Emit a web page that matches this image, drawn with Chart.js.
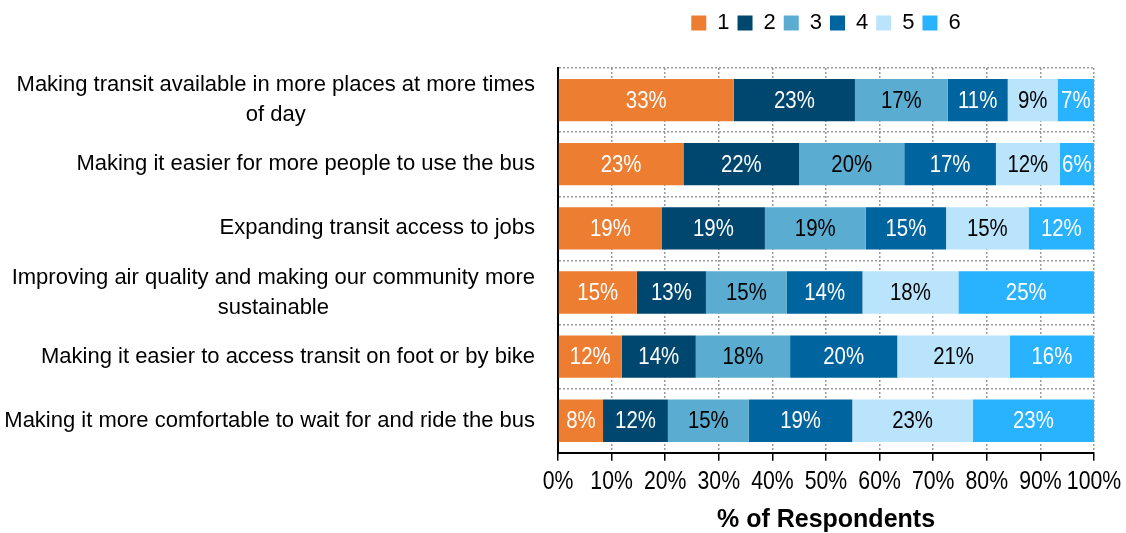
<!DOCTYPE html>
<html lang="en">

<head>
    <meta charset="UTF-8">
    <title>Priorities</title>
    <script src="https://cdn.jsdelivr.net/npm/chart.js@4.4.0/dist/chart.umd.min.js"></script>
    <style>
        html,
        body {
            margin: 0;
            background: #fff;
        }

        #wrap {
            width: 1126px;
            height: 533px;
        }
    </style>
</head>

<body>
    <div id="wrap"><canvas id="myChart"></canvas></div>
    <script>
        // categories (wrapped lines)
        var categories = [
            ['Making transit available in more places at more times', 'of day'],
            ['Making it easier for more people to use the bus'],
            ['Expanding transit access to jobs'],
            ['Improving air quality and making our community more', 'sustainable'],
            ['Making it easier to access transit on foot or by bike'],
            ['Making it more comfortable to wait for and ride the bus']
        ];
        var seriesNames = ['1', '2', '3', '4', '5', '6'];

        // % of respondents per rank, one array per rank (rows follow categories)
        var rank1 = [32.8, 23.4, 19.4, 14.7, 11.9, 8.4];
        var rank2 = [22.6, 21.6, 19.2, 12.9, 13.8, 12.1];
        var rank3 = [17.3, 19.6, 18.8, 15.1, 17.6, 15.1];
        var rank4 = [11.2, 17.1, 15.0, 14.1, 20.0, 19.3];
        var rank5 = [9.3, 11.9, 15.4, 17.9, 21.0, 22.5];
        var rank6 = [6.8, 6.4, 12.2, 25.3, 15.7, 22.6];

        var xTicks = [0, 10, 20, 30, 40, 50, 60, 70, 80, 90, 100];

        var colors = ['#ED7D31', '#00476F', '#5AACD1', '#00649E', '#B9E4FC', '#29B2FE'];
        var textColors = ['#fff', '#fff', '#000', '#fff', '#000', '#fff'];
        var FONT = "'Liberation Sans', Arial, sans-serif";
        var SQUEEZE = 0.85; // narrow look for the number labels

        var allSeries = [rank1, rank2, rank3, rank4, rank5, rank6];
        var datasets = allSeries.map(function (vals, i) {
            return {
                label: seriesNames[i],
                data: vals,
                backgroundColor: colors[i],
                borderWidth: 0,
                barPercentage: 0.66,
                categoryPercentage: 1
            };
        });

        function narrowText(ctx, txt, x, y) {
            ctx.save();
            ctx.translate(x, y);
            ctx.scale(SQUEEZE, 1);
            ctx.fillText(txt, 0, 0);
            ctx.restore();
        }

        // extra room under the legend
        var legendGap = {
            id: 'legendGap',
            beforeInit: function (chart) {
                var fit = chart.legend.fit;
                chart.legend.fit = function () {
                    fit.bind(chart.legend)();
                    this.height += 24;
                };
            }
        };

        // value labels inside the segments
        var segLabels = {
            id: 'segLabels',
            afterDatasetsDraw: function (chart) {
                var ctx = chart.ctx;
                ctx.save();
                ctx.font = '24px ' + FONT;
                ctx.textAlign = 'center';
                ctx.textBaseline = 'middle';
                chart.data.datasets.forEach(function (ds, i) {
                    chart.getDatasetMeta(i).data.forEach(function (bar, j) {
                        ctx.fillStyle = textColors[i];
                        narrowText(ctx, Math.round(ds.data[j]) + '%', (bar.x + bar.base) / 2, bar.y + 1);
                    });
                });
                ctx.restore();
            }
        };

        // x tick labels (drawn narrow, at the scale's tick positions)
        var xLabels = {
            id: 'xLabels',
            afterDraw: function (chart) {
                var ctx = chart.ctx;
                var xs = chart.scales.x;
                ctx.save();
                ctx.font = '25px ' + FONT;
                ctx.fillStyle = '#000';
                ctx.textAlign = 'center';
                ctx.textBaseline = 'middle';
                xTicks.forEach(function (v) {
                    narrowText(ctx, v + '%', xs.getPixelForValue(v), xs.top + 29);
                });
                ctx.restore();
            }
        };

        // category labels: right aligned to the axis, wrapped lines centred
        var catLabels = {
            id: 'catLabels',
            afterDraw: function (chart) {
                var ctx = chart.ctx;
                var yScale = chart.scales.y;
                var right = chart.chartArea.left - 23;
                var lh = 30;
                ctx.save();
                ctx.font = '22px ' + FONT;
                ctx.fillStyle = '#000';
                ctx.textAlign = 'center';
                ctx.textBaseline = 'middle';
                categories.forEach(function (lines, i) {
                    var widest = Math.max.apply(null, lines.map(function (l) { return ctx.measureText(l).width; }));
                    var cx = right - widest / 2;
                    var cy = yScale.getPixelForValue(i) - (lines.length - 1) * lh / 2;
                    lines.forEach(function (l, k) {
                        ctx.fillText(l, cx, cy + k * lh);
                    });
                });
                ctx.restore();
            }
        };

        var ctx = document.getElementById('myChart').getContext('2d');
        var chart = new Chart(ctx, {
            type: 'bar',
            data: {
                labels: categories.map(function (c) { return c.join(' '); }),
                datasets: datasets
            },
            options: {
                indexAxis: 'y',
                responsive: true,
                maintainAspectRatio: false,
                animation: false,
                layout: { padding: { top: 4, right: 32, bottom: 0, left: 0 } },
                plugins: {
                    legend: {
                        position: 'top',
                        fullSize: false,
                        labels: {
                            boxWidth: 15,
                            boxHeight: 15,
                            padding: 8,
                            color: '#000',
                            font: { family: FONT, size: 22 }
                        }
                    },
                    tooltip: { enabled: false }
                },
                scales: {
                    x: {
                        stacked: true,
                        min: 0,
                        max: 100,
                        afterBuildTicks: function (s) {
                            s.ticks = xTicks.map(function (v) { return { value: v }; });
                        },
                        afterFit: function (s) { s.paddingRight = 0; },
                        ticks: {
                            color: 'rgba(0,0,0,0)',
                            padding: 8,
                            maxRotation: 0,
                            autoSkip: false,
                            font: { family: FONT, size: 21 },
                            callback: function (v) { return v + '%'; }
                        },
                        grid: {
                            color: '#9a9a9a',
                            lineWidth: 1.5,
                            tickColor: '#000',
                            tickLength: 8,
                            tickWidth: 1.5,
                            tickBorderDash: []
                        },
                        border: { color: '#000', width: 2, dash: [2, 2] },
                        title: {
                            display: true,
                            text: '% of Respondents',
                            color: '#000',
                            padding: { top: 6, bottom: 0 },
                            font: { family: FONT, size: 25, weight: 'bold', lineHeight: 1 }
                        }
                    },
                    y: {
                        stacked: true,
                        afterFit: function (s) { s.width = 558; },
                        ticks: { display: false },
                        grid: {
                            offset: true,
                            color: '#9a9a9a',
                            lineWidth: 1.5,
                            drawTicks: false
                        },
                        border: { color: '#000', width: 2, dash: [2, 2] }
                    }
                }
            },
            plugins: [legendGap, segLabels, xLabels, catLabels]
        });
    </script>
</body>

</html>
